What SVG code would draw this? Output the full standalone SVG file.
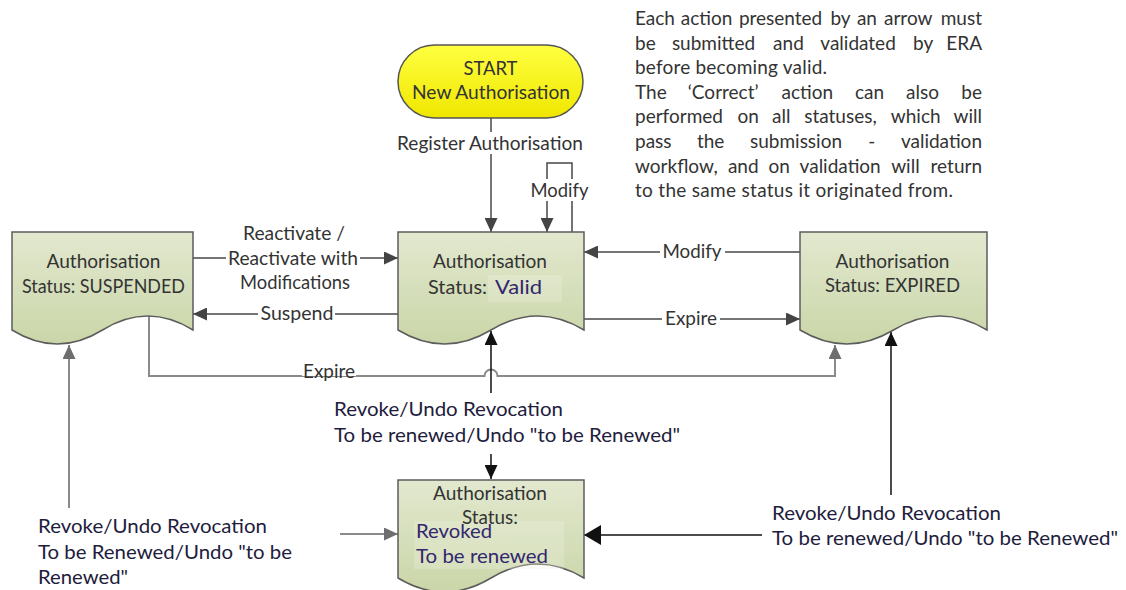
<svg xmlns="http://www.w3.org/2000/svg" width="1126" height="590" viewBox="0 0 1126 590">
<defs>
  <linearGradient id="docFill" x1="0" y1="0" x2="0" y2="1">
    <stop offset="0" stop-color="#e2e8cf"/>
    <stop offset="1" stop-color="#cad6a8"/>
  </linearGradient>
  <linearGradient id="startFill" x1="0" y1="0" x2="0" y2="1">
    <stop offset="0" stop-color="#ffff40"/>
    <stop offset="1" stop-color="#efe700"/>
  </linearGradient>
  <marker id="arrD" viewBox="0 0 14 13" refX="14" refY="6.5" markerWidth="14" markerHeight="13" markerUnits="userSpaceOnUse" orient="auto">
    <path d="M0,0 L14,6.5 L0,13 z" fill="#444"/>
  </marker>
  <marker id="arrG" viewBox="0 0 14 13" refX="14" refY="6.5" markerWidth="14" markerHeight="13" markerUnits="userSpaceOnUse" orient="auto">
    <path d="M0,0 L14,6.5 L0,13 z" fill="#6e6e6e"/>
  </marker>
  <marker id="arrK" viewBox="0 0 14 13" refX="14" refY="6.5" markerWidth="14" markerHeight="13" markerUnits="userSpaceOnUse" orient="auto">
    <path d="M0,0 L14,6.5 L0,13 z" fill="#111"/>
  </marker>
  <marker id="arrKB" viewBox="0 0 17 20" refX="17" refY="10" markerWidth="17" markerHeight="20" markerUnits="userSpaceOnUse" orient="auto">
    <path d="M0,0 L17,10 L0,20 z" fill="#111"/>
  </marker>
</defs>
<style>
  .doc{fill:url(#docFill);stroke:#5c5c5c;stroke-width:1.5}
  .t{font-family:Lato,"Liberation Sans",sans-serif;font-size:19px;fill:#333}
  .c{text-anchor:middle}
  .r{text-anchor:end}
  .lbl{font-size:20px;fill:#211c3c}
  .blue{fill:#33276e}
  .e{fill:none;stroke:#474747;stroke-width:1.5}
  .g{fill:none;stroke:#8a8a8a;stroke-width:2}
  .k{fill:none;stroke:#111;stroke-width:1.5}
  .bg{fill:#fff}
  .hl{fill:#eef2e2;opacity:0.3}
</style>
<rect width="1126" height="590" fill="#fff"/>

<g id="connectors">
  <g id="e-register">
    <path class="e" d="M491,118 V232" marker-end="url(#arrD)"/>
    <rect class="bg" x="394" y="132" width="194" height="22"/>
    <text class="t c" x="490" y="149.5" textLength="186" lengthAdjust="spacingAndGlyphs">Register Authorisation</text>
  </g>
  <g id="e-modify-self">
    <path class="e" d="M572,232 V163 H547 V232" marker-end="url(#arrD)"/>
    <rect class="bg" x="528" y="179" width="63" height="22"/>
    <text class="t c" x="559.5" y="196.5" textLength="58" lengthAdjust="spacingAndGlyphs">Modify</text>
  </g>
  <g id="e-reactivate">
    <path class="e" d="M193,258 H398" marker-end="url(#arrD)"/>
    <rect class="bg" x="226" y="247" width="134" height="22"/>
    <text class="t c" x="294" y="240" textLength="102" lengthAdjust="spacingAndGlyphs">Reactivate /</text>
    <text class="t c" x="293" y="264.5" textLength="130" lengthAdjust="spacingAndGlyphs">Reactivate with</text>
    <text class="t c" x="295" y="289" textLength="110" lengthAdjust="spacingAndGlyphs">Modifications</text>
  </g>
  <g id="e-suspend">
    <path class="e" d="M398,314 H193" marker-end="url(#arrD)"/>
    <rect class="bg" x="258" y="303" width="77" height="22"/>
    <text class="t c" x="297" y="319.5" textLength="73" lengthAdjust="spacingAndGlyphs">Suspend</text>
  </g>
  <g id="e-modify-expired">
    <path class="e" d="M800,252 H584" marker-end="url(#arrD)"/>
    <rect class="bg" x="660" y="241" width="65" height="22"/>
    <text class="t c" x="692" y="257.5" textLength="59" lengthAdjust="spacingAndGlyphs">Modify</text>
  </g>
  <g id="e-expire-valid">
    <path class="e" d="M584,319 H800" marker-end="url(#arrD)"/>
    <rect class="bg" x="662" y="308" width="58" height="22"/>
    <text class="t c" x="691" y="324.5" textLength="52" lengthAdjust="spacingAndGlyphs">Expire</text>
  </g>
  <g id="e-expire-suspended">
    <path class="g" d="M149,316 V376 H484.5 A6.5,6.5 0 0 1 497.5,376 H835 V345" marker-end="url(#arrG)"/>
    <rect class="bg" x="302" y="362" width="54" height="14"/>
    <text class="t c" x="329" y="378" textLength="52" lengthAdjust="spacingAndGlyphs">Expire</text>
  </g>
  <g id="e-revoke-valid">
    <path class="k" d="M491,393 V331" marker-end="url(#arrK)"/>
    <path class="k" d="M491,454 V479" marker-end="url(#arrK)"/>
    <text class="t lbl" x="334" y="415.5" textLength="229" lengthAdjust="spacingAndGlyphs">Revoke/Undo Revocation</text>
    <text class="t lbl" x="334" y="441.5" textLength="346" lengthAdjust="spacingAndGlyphs">To be renewed/Undo "to be Renewed"</text>
  </g>
  <g id="e-revoke-suspended">
    <path class="g" d="M69,508 V345" marker-end="url(#arrG)"/>
    <path class="g" d="M340,534 H398" marker-end="url(#arrG)"/>
    <text class="t lbl" x="38" y="532.5" textLength="229" lengthAdjust="spacingAndGlyphs">Revoke/Undo Revocation</text>
    <text class="t lbl" x="38" y="558.5" textLength="254" lengthAdjust="spacingAndGlyphs">To be Renewed/Undo "to be</text>
    <text class="t lbl" x="38" y="584" textLength="90" lengthAdjust="spacingAndGlyphs">Renewed"</text>
  </g>
  <g id="e-revoke-expired">
    <path class="k" d="M891,495 V332" marker-end="url(#arrK)"/>
    <path class="k" d="M762,535 H584" marker-end="url(#arrKB)"/>
    <text class="t lbl" x="772" y="519.5" textLength="229" lengthAdjust="spacingAndGlyphs">Revoke/Undo Revocation</text>
    <text class="t lbl" x="772" y="544.5" textLength="346" lengthAdjust="spacingAndGlyphs">To be renewed/Undo "to be Renewed"</text>
  </g>
</g>

<g id="start">
  <rect x="398" y="45" width="185" height="73" rx="36.5" fill="url(#startFill)" stroke="#555" stroke-width="1.5"/>
  <text class="t c" x="490.5" y="74.5" textLength="54" lengthAdjust="spacingAndGlyphs" fill="#222">START</text>
  <text class="t c" x="491" y="98.5" textLength="158" lengthAdjust="spacingAndGlyphs" fill="#222">New Authorisation</text>
</g>

<g id="suspended">
  <path class="doc" d="M12,232 H193 V330 Q147.75,302 102.5,330 Q57.25,358 12,330 Z"/>
  <text class="t c" x="103.5" y="267.5" textLength="114" lengthAdjust="spacingAndGlyphs">Authorisation</text>
  <text class="t c" x="103.5" y="292.5" textLength="163" lengthAdjust="spacingAndGlyphs">Status: SUSPENDED</text>
</g>

<g id="valid">
  <path class="doc" d="M398,232 H584 V330 Q537.5,302 491,330 Q444.5,358 398,330 Z"/>
  <rect class="hl" x="488" y="275" width="74" height="27"/>
  <text class="t c" x="490" y="267.5" textLength="114" lengthAdjust="spacingAndGlyphs">Authorisation</text>
  <text class="t" x="428" y="293.5" textLength="59" lengthAdjust="spacingAndGlyphs">Status:</text>
  <text class="t blue" x="495" y="293.5" textLength="47" lengthAdjust="spacingAndGlyphs">Valid</text>
</g>

<g id="expired">
  <path class="doc" d="M800,232 H987 V330 Q940.25,302 893.5,330 Q846.75,358 800,330 Z"/>
  <text class="t c" x="892.5" y="267.5" textLength="114" lengthAdjust="spacingAndGlyphs">Authorisation</text>
  <text class="t c" x="892.5" y="291.5" textLength="135" lengthAdjust="spacingAndGlyphs">Status: EXPIRED</text>
</g>

<g id="revoked">
  <path class="doc" d="M398,480 H584 V578 Q537.5,550 491,578 Q444.5,606 398,578 Z"/>
  <rect class="hl" x="414" y="521" width="150" height="48"/>
  <text class="t c" x="490" y="499.5" textLength="114" lengthAdjust="spacingAndGlyphs">Authorisation</text>
  <text class="t c" x="490" y="524" textLength="56" lengthAdjust="spacingAndGlyphs">Status:</text>
  <text class="t blue" x="416" y="538" textLength="76" lengthAdjust="spacingAndGlyphs">Revoked</text>
  <text class="t blue" x="416" y="563" textLength="132" lengthAdjust="spacingAndGlyphs">To be renewed</text>
</g>

<g id="note">
  <text class="t" y="25"><tspan x="635">Each</tspan><tspan x="680.8">action</tspan><tspan x="738.9">presented</tspan><tspan x="830.4">by</tspan><tspan x="856.9">an</tspan><tspan x="884">arrow</tspan></text>
  <text class="t r" x="982" y="25">must</text>
  <text class="t" y="49.6"><tspan x="635">be</tspan><tspan x="671.9">submitted</tspan><tspan x="773.1">and</tspan><tspan x="820.3">validated</tspan><tspan x="913.1">by</tspan></text>
  <text class="t r" x="982" y="49.6">ERA</text>
  <text class="t" x="635" y="74.2" textLength="192" lengthAdjust="spacing">before becoming valid.</text>
  <text class="t" y="98.8"><tspan x="635">The</tspan><tspan x="687.8">‘Correct’</tspan><tspan x="781.6">action</tspan><tspan x="855">can</tspan><tspan x="906.1">also</tspan></text>
  <text class="t r" x="982" y="98.8">be</text>
  <text class="t" y="123.4"><tspan x="635">performed</tspan><tspan x="737.6">on</tspan><tspan x="772.1">all</tspan><tspan x="804.2">statuses,</tspan><tspan x="890.8">which</tspan></text>
  <text class="t r" x="982" y="123.4">will</text>
  <text class="t" y="148"><tspan x="635">pass</tspan><tspan x="696.9">the</tspan><tspan x="750">submission</tspan><tspan x="868.2">-</tspan></text>
  <text class="t r" x="982" y="148">validation</text>
  <text class="t" y="172.6"><tspan x="635">workflow,</tspan><tspan x="727.9">and</tspan><tspan x="768.6">on</tspan><tspan x="799.6">validation</tspan><tspan x="891.2">will</tspan></text>
  <text class="t r" x="982" y="172.6">return</text>
  <text class="t" x="635" y="197.2" textLength="318" lengthAdjust="spacing">to the same status it originated from.</text>
</g>
</svg>
